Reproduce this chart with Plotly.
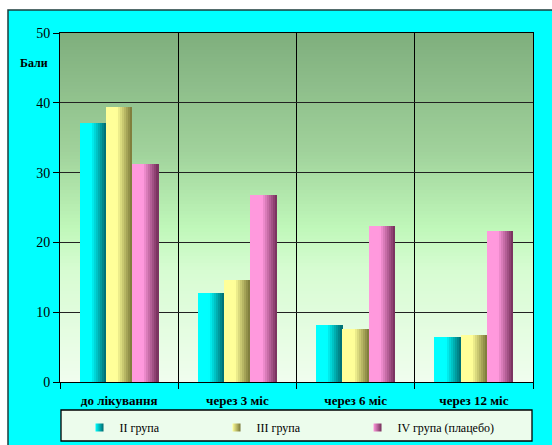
import plotly.graph_objects as go

# Data
categories = ["до лікування", "через 3 міс", "через 6 міс", "через 12 міс"]
series_names = ["II група", "III група", "IV група (плацебо)"]
group_ii = [37.1, 12.7, 8.2, 6.4]
group_iii = [39.4, 14.6, 7.6, 6.7]
group_iv = [31.2, 26.8, 22.3, 21.6]
y_ticks = [0, 10, 20, 30, 40, 50]

series_values = [group_ii, group_iii, group_iv]
# light -> dark shading for each series (cylinder-like gradient)
series_light = [(0, 255, 255), (255, 255, 153), (255, 153, 221)]
series_dark = [(0, 105, 110), (120, 118, 55), (115, 45, 88)]

FONT = "Liberation Serif, Times New Roman, serif"

bar_w = 0.222
n_strips = 13
strip_w = bar_w / n_strips
xs = list(range(len(categories)))

# plot area in pixels: left 60, right 533, top 33, bottom 382
PX_L, PX_R, PX_T, PX_B = 60, 533, 33, 382


def px_x(p):
    return (p - PX_L) / (PX_R - PX_L)


def px_y(p):
    return (PX_B - p) / (PX_B - PX_T)


def mix(a, b, t):
    return tuple(round(a[i] + (b[i] - a[i]) * t) for i in range(3))


def rgb(c):
    return "rgb(%d,%d,%d)" % c


fig = go.Figure()

for s, vals in enumerate(series_values):
    offset = (s - 1) * bar_w
    for k in range(n_strips):
        frac = (k + 0.5) / n_strips
        t = 0.0 if frac < 0.42 else (frac - 0.42) / 0.58
        c = mix(series_light[s], series_dark[s], t)
        fig.add_trace(go.Bar(
            x=[x + offset - bar_w / 2 + (k + 0.5) * strip_w for x in xs],
            y=vals,
            width=strip_w * 1.04,
            marker=dict(color=rgb(c), line=dict(width=0)),
            showlegend=False,
            hoverinfo="skip",
        ))

# legend entries: small shaded squares, one legend per series
legend_ids = ["legend", "legend2", "legend3"]
legend_text_px = [116, 253, 394]
for s, name in enumerate(series_names):
    fig.add_trace(go.Scatter(
        x=[None], y=[None], name=name, mode="markers",
        legend=legend_ids[s],
        marker=dict(symbol="square", size=8, color=rgb(series_light[s]),
                    gradient=dict(type="horizontal", color=rgb(series_dark[s])),
                    line=dict(width=0)),
    ))

shapes = []
# outer cyan panel
shapes.append(dict(type="rect", xref="paper", yref="paper",
                   x0=px_x(8), x1=px_x(600), y0=px_y(480), y1=px_y(10),
                   fillcolor="#00FFFF", line=dict(color="#1c3c3c", width=1.5),
                   layer="below"))
# legend box
shapes.append(dict(type="rect", xref="paper", yref="paper",
                   x0=px_x(61), x1=px_x(532), y0=px_y(441), y1=px_y(410),
                   fillcolor="#ECFCEC", line=dict(color="black", width=1.3),
                   layer="below"))

# plot-area vertical gradient (value -> colour stops)
stops = [(0, (240, 253, 238)), (16, (215, 252, 210)), (22, (192, 248, 186)),
         (33, (160, 210, 155)), (50, (127, 174, 125))]
n_bands = 100
for i in range(n_bands):
    v0 = 50 * i / n_bands
    v1 = min(50.0, 50 * (i + 1) / n_bands + 0.4)
    vm = 50 * (i + 0.5) / n_bands
    for j in range(len(stops) - 1):
        if stops[j][0] <= vm <= stops[j + 1][0]:
            t = (vm - stops[j][0]) / (stops[j + 1][0] - stops[j][0])
            c = mix(stops[j][1], stops[j + 1][1], t)
            break
    shapes.append(dict(type="rect", xref="x", yref="y",
                       x0=-0.5, x1=3.5, y0=v0, y1=v1,
                       fillcolor=rgb(c), line=dict(width=0),
                       layer="below"))


def legend_cfg(text_px):
    return dict(orientation="h", x=px_x(text_px - 36.5), y=px_y(413),
                xanchor="left", yanchor="top",
                bgcolor="rgba(0,0,0,0)", borderwidth=0, itemwidth=30,
                font=dict(family=FONT, size=12, color="black"))


fig.update_layout(
    width=552, height=445,
    margin=dict(l=PX_L, r=552 - PX_R, t=PX_T, b=445 - PX_B, autoexpand=False),
    paper_bgcolor="white",
    plot_bgcolor="rgba(0,0,0,0)",
    barmode="overlay",
    bargap=0,
    shapes=shapes,
    font=dict(family=FONT, color="black"),
    showlegend=True,
    legend=legend_cfg(legend_text_px[0]),
    legend2=legend_cfg(legend_text_px[1]),
    legend3=legend_cfg(legend_text_px[2]),
    xaxis=dict(range=[-0.5, 3.5], tickvals=xs,
               ticktext=["<b>%s</b>" % c for c in categories],
               ticks="", showgrid=False, zeroline=False,
               showline=True, linecolor="black", linewidth=1, mirror=True,
               tickfont=dict(family=FONT, size=13, color="black"),
               ticklabelstandoff=6,
               minor=dict(tickvals=[-0.5, 0.5, 1.5, 2.5, 3.5], showgrid=True,
                          gridcolor="black", gridwidth=1,
                          ticks="outside", ticklen=6, tickcolor="black")),
    yaxis=dict(range=[0, 50], tickvals=y_ticks, showgrid=True,
               gridcolor="#222", gridwidth=1, zeroline=False,
               showline=True, linecolor="black", linewidth=1, mirror=True,
               ticks="outside", ticklen=6, tickcolor="black",
               tickfont=dict(family=FONT, size=14, color="black")),
    annotations=[dict(text="<b>Бали</b>", xref="paper", yref="paper",
                      x=px_x(34), y=px_y(63), xanchor="center", yanchor="middle",
                      showarrow=False, font=dict(family=FONT, size=12, color="black"))],
)

fig.write_html("out.html")
